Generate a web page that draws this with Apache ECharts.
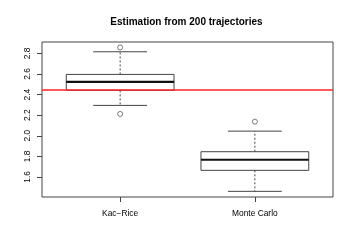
<!DOCTYPE html>
<html>
<head>
<meta charset="utf-8">
<script src="https://cdn.jsdelivr.net/npm/echarts@6/dist/echarts.min.js"></script>
<style>
html,body{margin:0;padding:0;background:#fff;}
#chart{width:354px;height:250px;}
</style>
</head>
<body>
<div id="chart"></div>
<script>
// ---- data ----
var titleText = 'Estimation from 200 trajectories';
var categories = ['Kac\u2212Rice', 'Monte Carlo'];
var lowerWhisker = [2.295, 1.460];
var q1 = [2.441, 1.664];
var median = [2.524, 1.767];
var q3 = [2.596, 1.845];
var upperWhisker = [2.816, 2.045];
var outlierCategory = [1, 1, 2];
var outlierValue = [2.858, 2.212, 2.137];
var referenceValue = 2.454;
var yTicks = [1.6, 1.8, 2.0, 2.2, 2.4, 2.6, 2.8];

// ---- build ----
var boxData = categories.map(function (c, i) {
  return [i + 1, lowerWhisker[i], q1[i], median[i], q3[i], upperWhisker[i]];
});
var outlierData = outlierValue.map(function (v, i) { return [outlierCategory[i], v]; });

var FONT = 'Liberation Sans, Arial, Helvetica, sans-serif';
var BOXW = 0.4; // half box width in x units
var STAPLE = 0.2;

function renderBox(params, api) {
  var x = api.value(0);
  var lw = api.value(1), a = api.value(2), m = api.value(3), b = api.value(4), uw = api.value(5);
  var pL = api.coord([x - BOXW, b]);
  var pR = api.coord([x + BOXW, a]);
  var mL = api.coord([x - BOXW, m]);
  var mR = api.coord([x + BOXW, m]);
  var c = api.coord([x, 0]);
  var yUW = api.coord([x, uw])[1], yLW = api.coord([x, lw])[1];
  var yQ3 = pL[1], yQ1 = pR[1];
  var sL = api.coord([x - STAPLE, 0])[0], sR = api.coord([x + STAPLE, 0])[0];
  var stroke = '#444';
  return {
    type: 'group',
    children: [
      { type: 'line', shape: { x1: c[0], y1: yQ3, x2: c[0], y2: yUW },
        style: { stroke: stroke, lineWidth: 1, lineDash: [2, 2] } },
      { type: 'line', shape: { x1: c[0], y1: yQ1, x2: c[0], y2: yLW },
        style: { stroke: stroke, lineWidth: 1, lineDash: [2, 2] } },
      { type: 'line', shape: { x1: sL, y1: yUW, x2: sR, y2: yUW },
        style: { stroke: stroke, lineWidth: 1 } },
      { type: 'line', shape: { x1: sL, y1: yLW, x2: sR, y2: yLW },
        style: { stroke: stroke, lineWidth: 1 } },
      { type: 'rect', shape: { x: pL[0], y: pL[1], width: pR[0] - pL[0], height: pR[1] - pL[1] },
        style: { fill: '#fff', stroke: stroke, lineWidth: 1 } },
      { type: 'line', shape: { x1: mL[0], y1: mL[1], x2: mR[0], y2: mR[1] },
        style: { stroke: '#111', lineWidth: 2.2 } }
    ]
  };
}

var chart = echarts.init(document.getElementById('chart'), null, { renderer: 'canvas' });
chart.setOption({
  animation: false,
  backgroundColor: '#fff',
  title: {
    text: titleText,
    left: 186.5,
    textAlign: 'center',
    top: 17,
    padding: 0,
    textStyle: { fontFamily: FONT, fontSize: 10, fontWeight: 'bold', color: '#000' }
  },
  grid: {
    left: 42, right: 21, top: 42, bottom: 53,
    show: true, borderColor: '#444', borderWidth: 1, backgroundColor: 'transparent'
  },
  xAxis: {
    type: 'value',
    min: 0.42, max: 2.58,
    axisLine: { show: false },
    splitLine: { show: false },
    axisTick: { show: true, length: 5, customValues: [1, 2], lineStyle: { color: '#444' } },
    axisLabel: {
      customValues: [1, 2],
      margin: 13,
      fontFamily: FONT, fontSize: 8.4, color: '#000',
      formatter: function (v) { return categories[Math.round(v) - 1] || ''; }
    }
  },
  yAxis: {
    type: 'value',
    min: 1.405, max: 2.911,
    axisLine: { show: false },
    splitLine: { show: false },
    axisTick: { show: true, length: 5, customValues: yTicks, lineStyle: { color: '#444' } },
    axisLabel: {
      customValues: yTicks,
      rotate: 90,
      margin: 10,
      fontFamily: FONT, fontSize: 8.4, color: '#000',
      formatter: function (v) { return v.toFixed(1); }
    }
  },
  series: [
    {
      type: 'custom',
      renderItem: renderBox,
      data: boxData,
      encode: { x: 0, y: [1, 2, 3, 4, 5] },
      z: 3
    },
    {
      type: 'scatter',
      data: outlierData,
      symbol: 'circle',
      symbolSize: 5,
      itemStyle: { color: '#fff', borderColor: '#333', borderWidth: 0.8 },
      z: 4
    },
    {
      type: 'line',
      data: [],
      markLine: {
        silent: true,
        symbol: ['none', 'none'],
        label: { show: false },
        lineStyle: { color: '#ff2020', width: 1.5, type: 'solid' },
        data: [{ yAxis: referenceValue }]
      },
      z: 5
    }
  ]
});
</script>
</body>
</html>
